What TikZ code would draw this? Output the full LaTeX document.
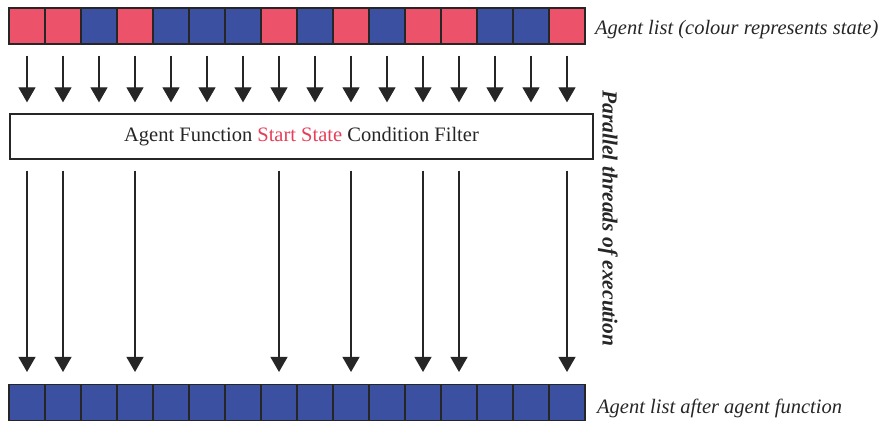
\documentclass[tikz,border=0pt]{standalone}
\usepackage{fontspec}
\setmainfont{Liberation Serif}
\usepackage{xcolor}
\usetikzlibrary{arrows.meta, positioning}

\definecolor{stateRed}{RGB}{236,82,106}
\definecolor{stateBlue}{RGB}{60,80,162}
\definecolor{startRed}{RGB}{230,62,88}

\begin{document}
\begin{tikzpicture}[
    x=1pt, y=-1pt,
    cell/.style={rectangle, draw=black!85, line width=1.1pt, minimum width=36pt, minimum height=36pt, inner sep=0pt},
    redcell/.style={cell, fill=stateRed},
    bluecell/.style={cell, fill=stateBlue},
    filterbox/.style={rectangle, draw=black!85, line width=1.3pt, minimum width=583pt, minimum height=45pt, font=\fontsize{20.5}{24}\selectfont, text=black!85},
    note/.style={font=\fontsize{20.5}{24}\selectfont\itshape, anchor=west, inner sep=0pt, text=black!85},
    thread/.style={-{Triangle[length=15pt, width=17pt]}, line width=1.2pt, color=black!85},
]
\useasboundingbox (0,0) rectangle (885,422);

% Agent list before the function
\foreach \c [count=\i] in {redcell,redcell,bluecell,redcell,bluecell,bluecell,bluecell,redcell,bluecell,redcell,bluecell,redcell,redcell,bluecell,bluecell,redcell}
    \node[\c] (top\i) at ({9+36*\i-18}, 26) {};

% Agent list after the function
\foreach \i in {1,...,16}
    \node[bluecell] (bot\i) at ({9+36*\i-18}, 402.5) {};

% Condition filter
\node[filterbox] (filter) at (301.5, 136.5) {Agent Function \textcolor{startRed}{Start State} Condition Filter};

% Every agent goes into the filter
\foreach \i in {1,...,16}
    \draw[thread, shorten <=11pt, shorten >=11pt] (top\i) -- (top\i |- filter.north);

% Only agents in the start state come out
\foreach \i in {1,2,4,8,10,12,13,16}
    \draw[thread, shorten <=11pt, shorten >=12pt] (filter.south -| top\i) -- (bot\i);

% Labels
\node[note] (inlabel) at (595, 30) {Agent list (colour represents state)};
\node[note] (outlabel) at (597, 408) {Agent list after agent function};
\node[font=\fontsize{21.5}{24}\selectfont\bfseries\itshape, rotate=-90, text=black!85] (threads) at (608, 218.5) {Parallel threads of execution};

\end{tikzpicture}
\end{document}
